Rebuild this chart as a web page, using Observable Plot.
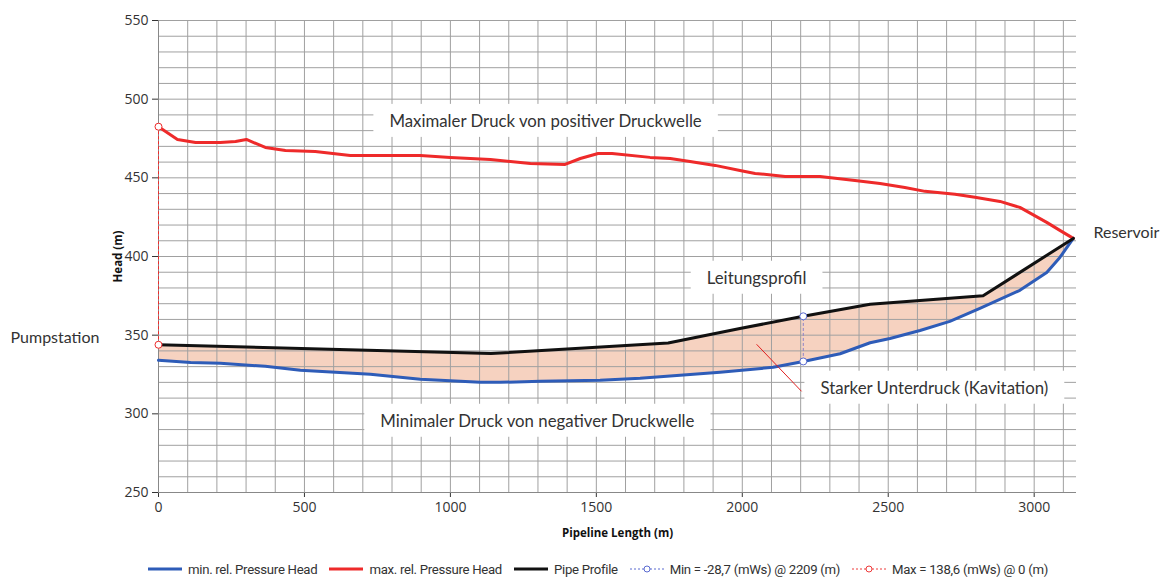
<!DOCTYPE html>
<html><head><meta charset="utf-8">
<script src="https://cdn.jsdelivr.net/npm/d3@7"></script>
<script src="https://cdn.jsdelivr.net/npm/@observablehq/plot@0.6"></script>
<style>
body{margin:0;background:#fff}
#chart{position:relative;width:1161px;height:577px;overflow:hidden}
#chart svg{display:block}
g[aria-label$="axis label"] text{font-weight:bold;font-size:11.5px;fill:#111}
.legend{position:absolute;top:561px;left:148px;height:16px;display:flex;align-items:center;font-family:Roboto,"Open Sans",sans-serif;font-size:13.2px;color:#333;letter-spacing:-0.3px;white-space:nowrap}
.item{display:flex;align-items:center;margin-right:12px}
.item svg{margin-right:6px}
</style></head>
<body><div id="chart"></div>
<script>
// ---- data ----
const maxX    = [0,65,127,212,264,301,366,435,537,657,897,1000,1137,1274,1393,1445,1506,1554,1684,1753,1821,1907,1992,2044,2147,2266,2386,2472,2557,2626,2729,2797,2883,2951,3043,3088,3134];
const maxHead = [482.5,474.4,472.5,472.5,473.1,474.4,469.3,467.4,466.8,464.2,464.2,463,461.7,459.1,458.5,462.3,465.5,465.5,463,462.3,460.4,457.9,454.7,452.8,450.9,450.9,448.3,446.4,443.9,441.4,439.5,437.6,435,431.2,421.7,416.6,411.5];
const minX    = [0,110,212,366,486,726,897,1102,1171,1308,1513,1650,1924,2106,2209,2335,2438,2506,2609,2711,2814,2951,3043,3088,3134];
const minHead = [334,332.7,332.1,330.2,327.7,325.1,322,320,320,320.7,321.3,322.6,326.4,329.6,333.3,338.2,345.2,347.9,353,358.8,367,378.5,389.9,399.4,411.5];
const pipeX   = [0,1139,1746,1992,2209,2438,2825,3134];
const pipeHead= [343.9,338.3,345,354.2,362,369.7,375,411.5];
const minMark = {x:2209, low:333.3, high:362.0};   // Min = -28,7 (mWs) @ 2209 (m)
const maxMark = {x:0, low:343.9, high:482.5};      // Max = 138,6 (mWs) @ 0 (m)
const xTicks = [0,500,1000,1500,2000,2500,3000];
const yTicks = [250,300,350,400,450,500,550];
const annotations = [
  {x:1326, y:485.8, text:"Maximaler Druck von positiver Druckwelle"},
  {x:1298, y:295.2, text:"Minimaler Druck von negativer Druckwelle"},
  {x:2049, y:386.1, text:"Leitungsprofil"},
  {x:2658, y:316.2, text:"Starker Unterdruck (Kavitation)"}
];
const leader = [{x1:2049, y1:344.2, x2:2203, y2:314.3}];
const sideLabels = [
  {x:3203, y:414.7, text:"Reservoir"},
  {x:-507, y:348.0, text:"Pumpstation"}
];
const legendItems = [
  {label:"min. rel. Pressure Head", color:"#2e5cb8", dash:null, marker:false},
  {label:"max. rel. Pressure Head", color:"#ee2a2a", dash:null, marker:false},
  {label:"Pipe Profile", color:"#111", dash:null, marker:false},
  {label:"Min = -28,7 (mWs) @ 2209 (m)", color:"#5a6ad0", dash:"2,2", marker:true},
  {label:"Max = 138,6 (mWs) @ 0 (m)", color:"#ee3a3a", dash:"2,2", marker:true}
];

// ---- build ----
const maxData = maxX.map((x,i)=>({x, y:maxHead[i]}));
const minData = minX.map((x,i)=>({x, y:minHead[i]}));
const pipeData = pipeX.map((x,i)=>({x, y:pipeHead[i]}));
const band = [...pipeData, ...minData.slice().reverse()];

const BLUE="#2e5cb8", RED="#ee2a2a", FILL="#f6d2c0", GRID="#a0a0a0";

const plot = Plot.plot({
  width:1161, height:550,
  marginLeft:158, marginRight:85, marginTop:20, marginBottom:58,
  style:{fontFamily:"'Open Sans',Lato,sans-serif", fontSize:"14px", color:"#333", background:"white"},
  x:{domain:[0,3145], ticks:xTicks, tickSize:5, tickPadding:5, label:"Pipeline Length (m)", labelAnchor:"center", labelArrow:"none", labelOffset:44, tickFormat:d=>String(d)},
  y:{domain:[250,550], ticks:yTicks, tickSize:6, tickPadding:4, label:"Head (m)", labelAnchor:"center", labelArrow:"none", labelOffset:45, tickFormat:d=>String(d)},
  marks:[
    Plot.line(band, {x:"x", y:"y", fill:FILL, stroke:"none"}),
    Plot.gridX(d3.range(0,3101,100), {stroke:GRID, strokeOpacity:1}),
    Plot.gridY(d3.range(250,551,10), {stroke:GRID, strokeOpacity:1}),
    Plot.ruleX([0], {stroke:"#888"}),
    Plot.ruleY([250], {stroke:"#888"}),
    Plot.ruleX([maxMark], {x:"x", y1:"low", y2:"high", stroke:RED, strokeWidth:1, strokeDasharray:"3,2"}),
    Plot.ruleX([minMark], {x:"x", y1:"low", y2:"high", stroke:"#8c84c8", strokeWidth:1, strokeDasharray:"3,2"}),
    Plot.line(minData, {x:"x", y:"y", stroke:BLUE, strokeWidth:3}),
    Plot.line(maxData, {x:"x", y:"y", stroke:RED, strokeWidth:3}),
    Plot.line(pipeData, {x:"x", y:"y", stroke:"#111", strokeWidth:3}),
    Plot.dot([maxMark], {x:"x", y:"low", r:3.5, fill:"white", stroke:RED, strokeWidth:1}),
    Plot.dot([maxMark], {x:"x", y:"high", r:3.5, fill:"white", stroke:RED, strokeWidth:1}),
    Plot.dot([minMark], {x:"x", y:"low", r:3.5, fill:"white", stroke:"#5a6ad0", strokeWidth:1}),
    Plot.dot([minMark], {x:"x", y:"high", r:3.5, fill:"white", stroke:"#5a6ad0", strokeWidth:1}),
    Plot.link(leader, {x1:"x1", y1:"y1", x2:"x2", y2:"y2", stroke:"#e02020", strokeWidth:1}),
    Plot.text(annotations, {x:"x", y:"y", text:"text", fontSize:16.8, fill:"#333", fontFamily:"Lato,'Open Sans',sans-serif", ariaDescription:"annot"}),
    Plot.text(sideLabels, {x:"x", y:"y", text:"text", fontSize:16, fill:"#333", textAnchor:"start", fontFamily:"Lato,'Open Sans',sans-serif"})
  ]
});
const chart = document.getElementById("chart");
chart.appendChild(plot);

// white boxes behind annotation texts
let ag = plot.querySelector('g[aria-description="annot"]');
if (!ag) {
  ag = Array.from(plot.querySelectorAll('g[aria-label="text"]')).find(g=>g.textContent.includes("Maximaler"));
}
if (ag) {
  Array.from(ag.querySelectorAll("text")).forEach(t=>{
    const b = t.getBBox();
    const r = document.createElementNS("http://www.w3.org/2000/svg","rect");
    const tr = t.getAttribute("transform");
    if (tr) r.setAttribute("transform", tr);
    r.setAttribute("x", b.x-16); r.setAttribute("y", b.y-6);
    r.setAttribute("width", b.width+32); r.setAttribute("height", b.height+12);
    r.setAttribute("fill","white");
    ag.insertBefore(r, ag.firstChild);
  });
}

// legend
const lg = document.createElement("div"); lg.className="legend";
legendItems.forEach((it)=>{
  const d = document.createElement("div"); d.className="item";
  const w = 34;
  const s = d3.create("svg").attr("width",w).attr("height",10);
  s.append("line").attr("x1",0).attr("x2",w).attr("y1",5).attr("y2",5)
    .attr("stroke",it.color).attr("stroke-width",it.dash?1:3).attr("stroke-dasharray",it.dash);
  if (it.marker) s.append("circle").attr("cx",w/2).attr("cy",5).attr("r",3).attr("fill","white").attr("stroke",it.color);
  d.appendChild(s.node());
  const sp = document.createElement("span"); sp.textContent = it.label; d.appendChild(sp);
  lg.appendChild(d);
});
chart.appendChild(lg);
</script></body></html>
